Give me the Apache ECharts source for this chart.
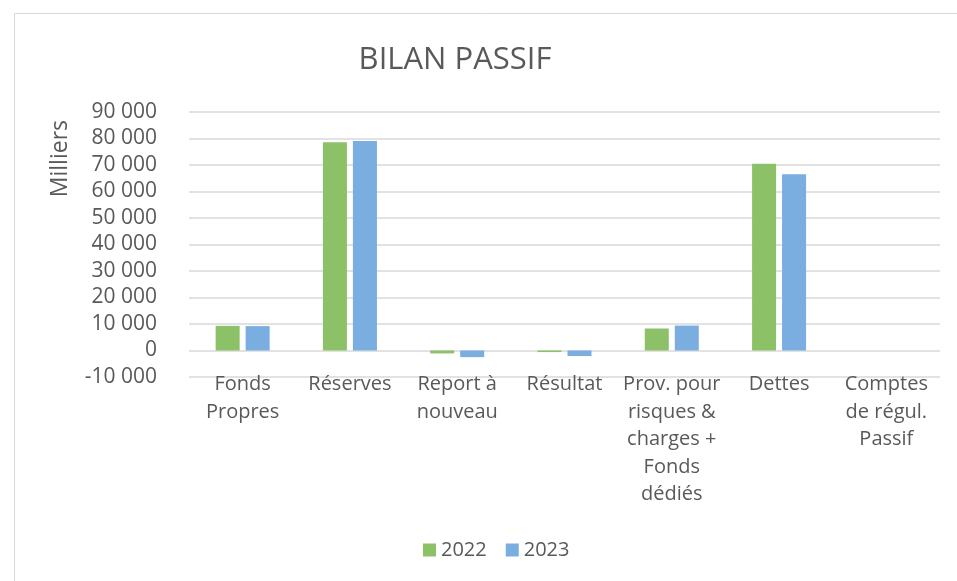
<!DOCTYPE html>
<html>
<head>
<meta charset="utf-8">
<script src="https://cdn.jsdelivr.net/npm/echarts@6/dist/echarts.min.js"></script>
<style>
  html, body { margin: 0; padding: 0; background: #fff; }
  #chart { width: 957px; height: 581px; }
</style>
</head>
<body>
<div id="chart"></div>
<script>
const categories = [
  'Fonds\nPropres',
  'Réserves',
  'Report à\nnouveau',
  'Résultat',
  'Prov. pour\nrisques &\ncharges +\nFonds\ndédiés',
  'Dettes',
  'Comptes\nde régul.\nPassif'
];
const values2022 = [9300, 78600, -1100, -600, 8300, 70500, 0];
const values2023 = [9200, 79100, -2500, -2100, 9400, 66500, 0];
const yTicks = { min: -10000, max: 90000, interval: 10000 };

const fontFamily = '"Open Sans", sans-serif';
const textColor = '#595959';

function fmt(v) {
  const s = String(Math.abs(v)).replace(/\B(?=(\d{3})+(?!\d))/g, ' ');
  return (v < 0 ? '-' : '') + s;
}

const chart = echarts.init(document.getElementById('chart'));
chart.setOption({
  animation: false,
  textStyle: { fontFamily: fontFamily },
  graphic: [{
    type: 'rect',
    shape: { x: 14.5, y: 13.5, width: 960, height: 600 },
    style: { fill: 'none', stroke: '#d9d9d9', lineWidth: 1 },
    silent: true
  }, {
    type: 'text',
    left: 49,
    top: 120,
    rotation: Math.PI / 2,
    style: { text: 'Milliers', font: '23px ' + fontFamily, fill: textColor }
  }],
  title: {
    text: 'BILAN PASSIF',
    left: 450,
    top: 40,
    textAlign: 'center',
    textStyle: { fontFamily: fontFamily, fontSize: 31, fontWeight: 'normal', color: textColor }
  },
  legend: {
    bottom: 16,
    left: 418,
    itemWidth: 13,
    itemHeight: 13,
    itemGap: 19,
    icon: 'rect',
    textStyle: { fontSize: 20, color: textColor, fontFamily: fontFamily },
    data: ['2022', '2023']
  },
  grid: { left: 189, right: 17, top: 112, bottom: 204 },
  xAxis: {
    type: 'category',
    data: categories,
    axisLine: { show: false, onZero: false },
    axisTick: { show: false },
    axisLabel: {
      interval: 0,
      fontSize: 20,
      lineHeight: 27.5,
      color: textColor,
      margin: -6,
      fontFamily: fontFamily,
      verticalAlign: 'top'
    }
  },
  yAxis: {
    type: 'value',
    min: yTicks.min,
    max: yTicks.max,
    interval: yTicks.interval,
    axisLine: { show: false },
    axisTick: { show: false },
    axisLabel: {
      fontSize: 21,
      color: textColor,
      margin: 32,
      fontFamily: fontFamily,
      formatter: fmt
    },
    splitLine: { lineStyle: { color: '#d9d9d9', width: 1.5 } }
  },
  series: [{
    name: '2022',
    type: 'bar',
    data: values2022,
    barWidth: 24,
    barGap: '25%',
    itemStyle: { color: '#8cc168' }
  }, {
    name: '2023',
    type: 'bar',
    data: values2023,
    barWidth: 24,
    itemStyle: { color: '#7aade0' }
  }]
});
</script>
</body>
</html>
